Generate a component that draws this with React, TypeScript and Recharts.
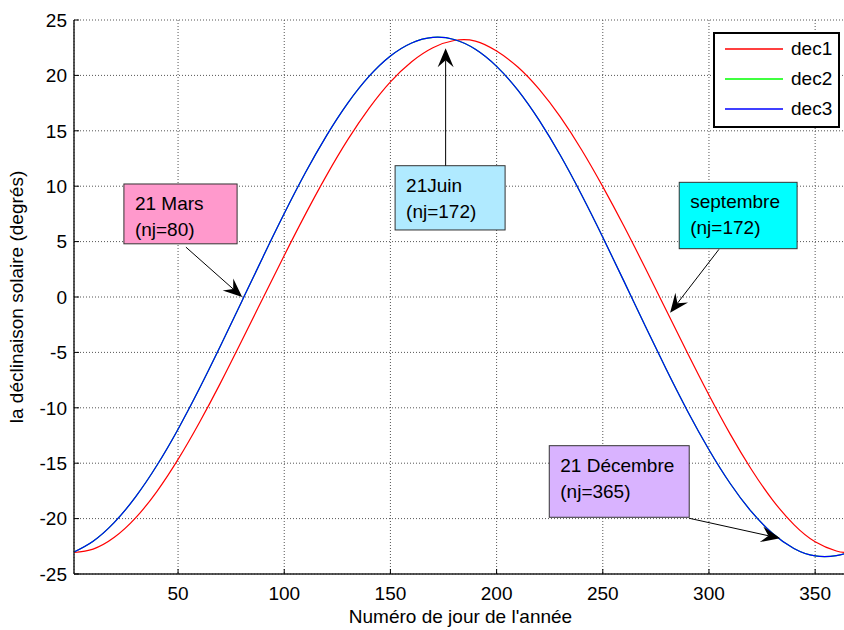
import React from 'react';
import { LineChart, Line, XAxis, YAxis, CartesianGrid, Legend, ReferenceArea, ReferenceLine } from 'recharts';

// day of year
const days = [1, 10, 20, 30, 40, 50, 60, 70, 80, 90, 100, 110, 120, 130, 140, 150, 160, 170, 180, 190, 200, 210, 220, 230, 240, 250, 260, 270, 280, 290, 300, 310, 320, 330, 340, 350, 360, 365];

// declination (degrees)
const dec1 = [-23.06, -22.75, -21.69, -19.94, -17.56, -14.66, -11.35, -7.75, -3.95, -0.09, 3.75, 7.48, 11.0, 14.22, 17.05, 19.42, 21.24, 22.5, 23.15, 23.1, 22.2, 20.76, 18.76, 16.25, 13.29, 9.96, 6.38, 2.61, -1.25, -5.1, -8.85, -12.38, -15.57, -18.33, -20.54, -22.09, -22.92, -23.06];
const dec2 = [-23.01, -22.04, -20.34, -18.04, -15.21, -11.93, -8.29, -4.41, -0.4, 3.62, 7.53, 11.23, 14.59, 17.52, 19.93, 21.75, 22.93, 23.43, 23.24, 22.36, 20.82, 18.67, 15.96, 12.79, 9.23, 5.4, 1.41, -2.62, -6.57, -10.33, -13.78, -16.83, -19.38, -21.35, -22.7, -23.37, -23.35, -23.09];
const dec3 = [-23.01, -22.04, -20.34, -18.04, -15.21, -11.93, -8.29, -4.41, -0.4, 3.62, 7.53, 11.23, 14.59, 17.52, 19.93, 21.75, 22.93, 23.43, 23.24, 22.36, 20.82, 18.67, 15.96, 12.79, 9.23, 5.4, 1.41, -2.62, -6.57, -10.33, -13.78, -16.83, -19.38, -21.35, -22.7, -23.37, -23.35, -23.09];

const seriesNames = ['dec1', 'dec2', 'dec3'];
const xTicks = [50, 100, 150, 200, 250, 300, 350];
const yTicks = [-25, -20, -15, -10, -5, 0, 5, 10, 15, 20, 25];

const seriesColors: Record<string, string> = { dec1: '#FF0000', dec2: '#00FF00', dec3: '#0000FF' };
const FONT = '"Liberation Sans", Arial, Helvetica, sans-serif';
const FS = 19;

const rows = days.map((d, i) => ({ day: d, dec1: dec1[i], dec2: dec2[i], dec3: dec3[i] }));

// text boxes + arrows, in data units (day, degrees)
const notes = [
  { lines: ['21 Mars', '(nj=80)'], fill: '#FF99CC', box: [24.5, 77.8, 4.8, 10.2], from: [53.7, 4.5], to: [80.2, 0] },
  { lines: ['21Juin', '(nj=172)'], fill: '#B0EAFF', box: [152.2, 204, 6.05, 11.85], from: [176, 11.85], to: [176, 22.45] },
  { lines: ['septembre', '(nj=172)'], fill: '#00FFFF', box: [286, 341.5, 4.36, 10.35], from: [304.7, 4.3], to: [281.7, -1.42] },
  { lines: ['21 Décembre', '(nj=365)'], fill: '#D9B3FF', box: [224.8, 290.7, -19.88, -13.42], from: [290.7, -19.97], to: [333.5, -21.78] },
];

const renderXTick = (p: any) => (
  <g>
    <line x1={p.x} y1={p.y} x2={p.x} y2={p.y - 5} stroke="#000" />
    <text x={p.x} y={p.y + 26} textAnchor="middle" fontSize={FS} fontFamily={FONT} fill="#000">{p.payload.value}</text>
  </g>
);

const renderTopTick = (p: any) => <line x1={p.x} y1={p.y} x2={p.x} y2={p.y + 5} stroke="#000" />;

const renderYTick = (p: any) => (
  <g>
    <line x1={p.x} y1={p.y} x2={p.x + 5} y2={p.y} stroke="#000" />
    <text x={p.x - 7} y={p.y} dy="0.36em" textAnchor="end" fontSize={FS} fontFamily={FONT} fill="#000">{p.payload.value}</text>
  </g>
);

const renderXLabel = (p: any) => {
  const vb = p.viewBox || { x: 74, y: 574, width: 773 };
  return (
    <text x={vb.x + vb.width / 2} y={vb.y + 49} textAnchor="middle" fontSize={FS} fontFamily={FONT} fill="#000">
      Numéro de jour de l'année
    </text>
  );
};

const renderYLabel = (p: any) => {
  const vb = p.viewBox || { y: 20, height: 554 };
  const cx = 23;
  const cy = vb.y + vb.height / 2;
  return (
    <text x={cx} y={cy} transform={`rotate(-90, ${cx}, ${cy})`} textAnchor="middle" fontSize={FS} fontFamily={FONT} fill="#000">
      la déclinaison solaire (degrés)
    </text>
  );
};

const makeBox = (lines: string[], fill: string) => (p: any) => (
  <g>
    <rect x={p.x} y={p.y} width={p.width} height={p.height} fill={fill} stroke="#333" strokeWidth={1} />
    {lines.map((t, i) => (
      <text key={i} x={p.x + 11} y={p.y + 26 + i * 26} fontSize={FS} fontFamily={FONT} fill="#000">{t}</text>
    ))}
  </g>
);

// black arrow with a notched head at the end point
const renderArrow = (p: any) => {
  const { x1, y1, x2, y2 } = p;
  const a = Math.atan2(y2 - y1, x2 - x1);
  const ux = Math.cos(a);
  const uy = Math.sin(a);
  const L = 19, W = 8, N = 12;
  const bx = x2 - ux * L;
  const by = y2 - uy * L;
  const pts = [
    [x2, y2],
    [bx - uy * W, by + ux * W],
    [x2 - ux * N, y2 - uy * N],
    [bx + uy * W, by - ux * W],
  ].map((q) => q.join(',')).join(' ');
  return (
    <g>
      <line x1={x1} y1={y1} x2={x2 - ux * N} y2={y2 - uy * N} stroke="#000" strokeWidth={1} />
      <polygon points={pts} fill="#000" />
    </g>
  );
};

const renderLegend = () => (
  <div style={{ width: 123, height: 92, border: '2px solid #000', background: '#fff', position: 'relative', fontFamily: FONT }}>
    {seriesNames.map((name, i) => (
      <div key={name} style={{ position: 'absolute', left: 10, top: 3 + i * 30, height: 24, display: 'flex', alignItems: 'center' }}>
        <svg width={58} height={4} style={{ display: 'block' }}>
          <line x1={0} y1={2} x2={58} y2={2} stroke={seriesColors[name]} strokeWidth={1.5} />
        </svg>
        <span style={{ marginLeft: 8, fontSize: FS, color: '#000', lineHeight: '24px' }}>{name}</span>
      </div>
    ))}
  </div>
);

export default function App() {
  return (
    <div style={{ position: 'absolute', left: 0, top: 0, width: 844, height: 630, overflow: 'hidden', background: '#fff', fontFamily: FONT }}>
      <LineChart width={848} height={630} data={rows} margin={{ top: 20, right: 1, bottom: 0, left: 0 }}>
        <CartesianGrid stroke="#555" strokeDasharray="1 2" />
        <XAxis
          dataKey="day"
          type="number"
          domain={[1, 365]}
          ticks={xTicks}
          height={56}
          tickSize={0}
          tickMargin={0}
          tick={renderXTick}
          axisLine={{ stroke: '#222', strokeWidth: 1.5 }}
          label={renderXLabel}
        />
        <XAxis
          xAxisId="top"
          orientation="top"
          dataKey="day"
          type="number"
          domain={[1, 365]}
          ticks={xTicks}
          height={0}
          tickSize={0}
          tickMargin={0}
          tick={renderTopTick}
          axisLine={{ stroke: '#444' }}
        />
        <YAxis
          type="number"
          domain={[-25, 25]}
          ticks={yTicks}
          width={74}
          tickSize={0}
          tickMargin={0}
          tick={renderYTick}
          axisLine={{ stroke: '#222', strokeWidth: 1.5 }}
          label={renderYLabel}
        />
        <Legend
          layout="vertical"
          align="center"
          verticalAlign="middle"
          content={renderLegend}
          wrapperStyle={{ left: 713, top: 32, width: 127, height: 96 }}
        />
        {seriesNames.map((name) => (
          <Line
            key={name}
            type="natural"
            dataKey={name}
            name={name}
            stroke={seriesColors[name]}
            strokeWidth={1.2}
            dot={false}
            isAnimationActive={false}
          />
        ))}
        {notes.map((n, i) => (
          <ReferenceArea
            key={`box${i}`}
            x1={n.box[0]}
            x2={n.box[1]}
            y1={n.box[2]}
            y2={n.box[3]}
            shape={makeBox(n.lines, n.fill)}
          />
        ))}
        {notes.map((n, i) => (
          <ReferenceLine
            key={`arrow${i}`}
            segment={[{ x: n.from[0], y: n.from[1] }, { x: n.to[0], y: n.to[1] }]}
            shape={renderArrow}
          />
        ))}
      </LineChart>
    </div>
  );
}
